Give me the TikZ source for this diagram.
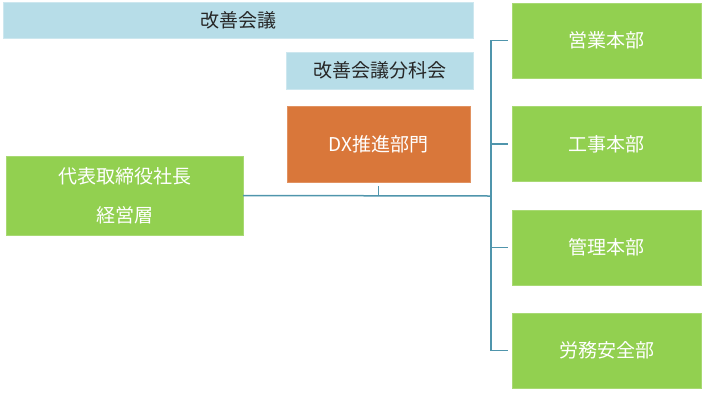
\documentclass[tikz,border=0pt]{standalone}
\usepackage{fontspec}
\setmainfont{Noto Sans CJK JP}
\usepackage{xcolor}
\usetikzlibrary{positioning}

\definecolor{meetblue}{HTML}{B7DDE8}
\definecolor{deptgreen}{HTML}{92D050}
\definecolor{dxorange}{HTML}{D9773A}
\definecolor{linkblue}{HTML}{4F95AC}

\begin{document}
\begin{tikzpicture}[
    x=1pt, y=-1pt,
    meeting/.style={rectangle, draw=meetblue!70!white, fill=meetblue, text=black!85, font=\fontsize{19}{22}\selectfont, inner sep=0pt},
    dept/.style={rectangle, draw=deptgreen!80!white, fill=deptgreen, text=white, minimum width=189pt, minimum height=75pt, font=\fontsize{19}{22}\selectfont, inner sep=0pt},
    dxbox/.style={rectangle, draw=dxorange!80!white, fill=dxorange, text=white, font=\fontsize{19}{22}\selectfont, inner sep=0pt},
    link/.style={draw=linkblue, line width=1.5pt}
]
    \useasboundingbox (0,0) rectangle (707,392);

    % Meetings
    \node[meeting, minimum width=470pt, minimum height=36pt] (kaizen) at (238,20) {改善会議};
    \node[meeting, minimum width=187pt, minimum height=37pt] (bunka) at (379.5,70.5) {改善会議分科会};

    % DX
    \node[dxbox, minimum width=183pt, minimum height=76pt] (dx) at (378.5,144) {DX推進部門};

    % Management
    \node[dept, minimum width=237pt, minimum height=79pt, align=center, font=\fontsize{19}{39}\selectfont] (ceo) at (124.5,195.5) {代表取締役社長\\経営層};

    % Departments
    \node[dept] (eigyo) at (606.5,40.5) {営業本部};
    \node[dept, below=28pt of eigyo] (kouji) {工事本部};
    \node[dept, below=28pt of kouji] (kanri) {管理本部};
    \node[dept, below=28pt of kanri] (roumu) {労務安全部};

    % Lines
    \coordinate (hub) at (491,196);
    \draw[link] (ceo.east) -- (hub);
    \draw[link] ([xshift=-4pt]eigyo.west) -| (hub) |- ([xshift=-4pt]roumu.west);
    \draw[link] (hub |- kouji) -- ([xshift=-4pt]kouji.west);
    \draw[link] (hub |- kanri) -- ([xshift=-4pt]kanri.west);
    \draw[link] ([yshift=-4pt]dx.south) -- (dx.south |- hub);
\end{tikzpicture}
\end{document}
